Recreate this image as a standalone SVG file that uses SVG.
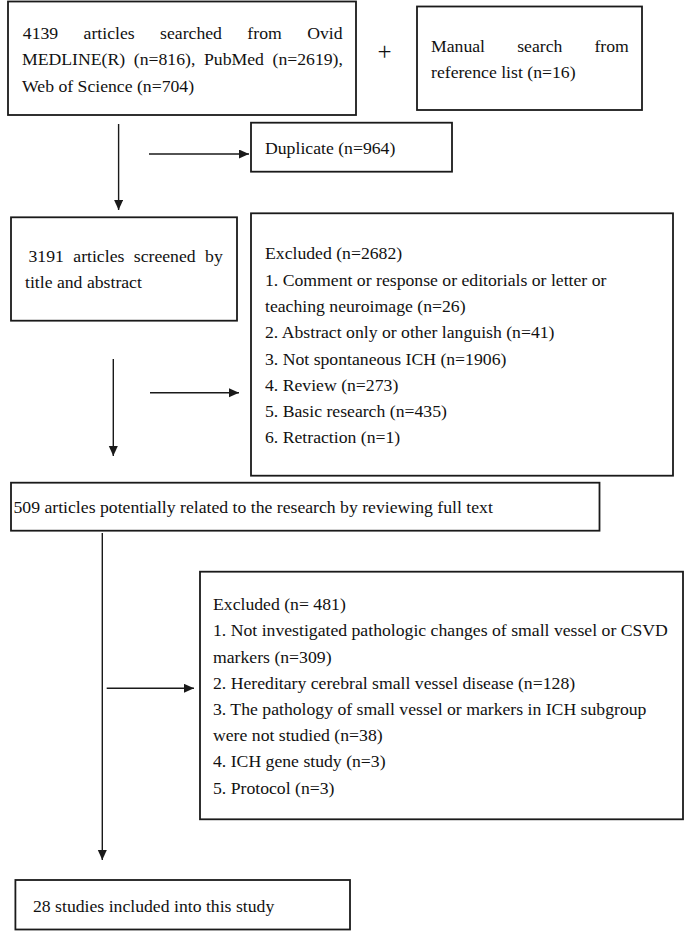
<svg xmlns="http://www.w3.org/2000/svg" width="685" height="931" viewBox="0 0 685 931">
<style>
.box{fill:#fff;stroke:#1a1a1a;stroke-width:1.8}
.t{font-family:"Liberation Serif","Times New Roman",serif;font-size:17.7px;fill:#111}
.c{fill:none;stroke:#1a1a1a;stroke-width:1.4}
</style>
<defs>
<marker id="ah" markerUnits="userSpaceOnUse" markerWidth="12" markerHeight="10" refX="10" refY="4.5" orient="auto">
<path d="M0,0 L10,4.5 L0,9 Z" fill="#1a1a1a"/>
</marker>
</defs>
<rect width="685" height="931" fill="#fff"/>
<g id="connectors">
<line class="c" x1="118.6" y1="124" x2="118.6" y2="210" marker-end="url(#ah)"/>
<line class="c" x1="149" y1="154" x2="249" y2="154" marker-end="url(#ah)"/>
<line class="c" x1="113.3" y1="359" x2="113.3" y2="456" marker-end="url(#ah)"/>
<line class="c" x1="150" y1="392.7" x2="239" y2="392.7" marker-end="url(#ah)"/>
<line class="c" x1="102.3" y1="533" x2="102.3" y2="860" marker-end="url(#ah)"/>
<line class="c" x1="106.7" y1="688.3" x2="194" y2="688.3" marker-end="url(#ah)"/>
</g>
<g id="n-search">
<rect class="box" x="8" y="1.5" width="348" height="113.5"/>
<text class="t" x="22.8" y="38.5" style="word-spacing:21px">4139 articles searched from Ovid</text>
<text class="t" x="22" y="65" style="word-spacing:4.2px">MEDLINE(R) (n=816), PubMed (n=2619),</text>
<text class="t" x="22" y="91.5">Web of Science (n=704)</text>
</g>
<g id="n-plus">
<text class="t" x="384.5" y="60" text-anchor="middle" style="font-size:25px">+</text>
</g>
<g id="n-manual">
<rect class="box" x="417" y="6.5" width="225" height="103.5"/>
<text class="t" x="431" y="51.5" style="word-spacing:27.7px">Manual search from</text>
<text class="t" x="431" y="77.5">reference list (n=16)</text>
</g>
<g id="n-duplicate">
<rect class="box" x="251" y="122.7" width="201" height="49"/>
<text class="t" x="265" y="154">Duplicate (n=964)</text>
</g>
<g id="n-screened">
<rect class="box" x="11" y="217.3" width="226" height="103.4"/>
<text class="t" x="28.5" y="262" style="word-spacing:5px">3191 articles screened by</text>
<text class="t" x="25" y="288">title and abstract</text>
</g>
<g id="n-excluded1">
<rect class="box" x="251" y="213.3" width="422" height="262.4"/>
<text class="t" x="265" y="259.3">Excluded (n=2682)</text>
<text class="t" x="265" y="285.6">1. Comment or response or editorials or letter or</text>
<text class="t" x="265" y="311.9">teaching neuroimage (n=26)</text>
<text class="t" x="265" y="338.2">2. Abstract only or other languish (n=41)</text>
<text class="t" x="265" y="364.5">3. Not spontaneous ICH (n=1906)</text>
<text class="t" x="265" y="390.8">4. Review (n=273)</text>
<text class="t" x="265" y="417.1">5. Basic research (n=435)</text>
<text class="t" x="265" y="443.4">6. Retraction (n=1)</text>
</g>
<g id="n-fulltext">
<rect class="box" x="11" y="482.7" width="588.5" height="48"/>
<text class="t" x="13.5" y="513">509 articles potentially related to the research by reviewing full text</text>
</g>
<g id="n-excluded2">
<rect class="box" x="200" y="571.7" width="483" height="247.6"/>
<text class="t" x="213" y="610">Excluded (n= 481)</text>
<text class="t" x="213" y="636.4">1. Not investigated pathologic changes of small vessel or CSVD</text>
<text class="t" x="213" y="662.6">markers (n=309)</text>
<text class="t" x="213" y="688.8">2. Hereditary cerebral small vessel disease (n=128)</text>
<text class="t" x="213" y="715">3. The pathology of small vessel or markers in ICH subgroup</text>
<text class="t" x="213" y="741.2">were not studied (n=38)</text>
<text class="t" x="213" y="767.4">4. ICH gene study (n=3)</text>
<text class="t" x="213" y="793.6">5. Protocol (n=3)</text>
</g>
<g id="n-included">
<rect class="box" x="15.4" y="880" width="334.6" height="49.5"/>
<text class="t" x="33" y="911.5">28 studies included into this study</text>
</g>
</svg>
